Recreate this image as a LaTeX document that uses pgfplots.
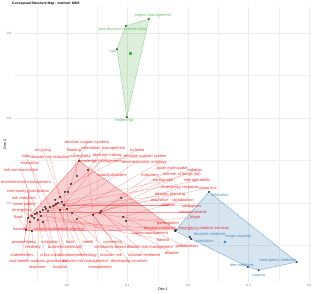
\documentclass[border=0pt]{standalone}
\usepackage{pgfplots}
\usepackage{pgfplotstable}
\pgfplotsset{compat=1.18}
\usepackage{fontspec}
\setmainfont{Liberation Sans}
\definecolor{cred}{HTML}{E41A1C}
\definecolor{cblue}{HTML}{377EB8}
\definecolor{cgreen}{HTML}{4DAF4A}

% red cluster: point (px,py) and its label (lx,ly)
\pgfplotstableread[col sep=comma]{
px,py,lx,ly,label
0.0198,0.0988,0.0331,0.1412,decision support systems
-0.0116,0.0141,-0.0397,0.1224,recycling
0.0165,0.0635,0.0116,0.1224,flooding
0.0347,0.0776,0.0595,0.1271,information management
0.0066,0.0447,0.1157,0.1247,sri lanka
-0.0281,-0.0094,-0.0678,0.1106,india
-0.0083,0.0024,-0.0281,0.1082,disaster risk reduction
0.0017,0.0259,0.0215,0.1082,vulnerability
-0.0033,0.0259,0.0661,0.1106,decision making
0.0198,0.0988,0.1289,0.1082,decision support system
-0.0397,-0.0165,-0.0612,0.0941,evaluation
-0.0116,-0.0165,0.0545,0.0965,knowledge management
0.0,-0.0141,0.1140,0.0965,decentralization
0.0083,-0.0235,0.1520,0.0941,ontology
-0.0496,-0.0235,-0.0760,0.0776,risk communication
0.043,-0.0282,0.1736,0.08,japan earthquake
0.0545,-0.0235,0.2116,0.0776,radiation
-0.0198,0.0071,0.0744,0.0659,natural disasters
0.0562,-0.0188,0.1372,0.0659,indicators
0.0893,0.0118,0.1901,0.0659,internet of things (iot)
-0.0579,-0.0306,-0.0680,0.0471,environmental management
-0.0149,0.0,0.1587,0.0518,earthquake
-0.0231,-0.0071,0.2149,0.0518,interoperability
-0.0645,-0.0353,-0.0645,0.0259,community participation
0.0165,-0.0376,0.1868,0.0353,emergency response
0.0562,-0.0188,0.2331,0.0353,costa rica
-0.0347,-0.0141,0.1702,0.0188,disaster planning
-0.0678,-0.0635,-0.0711,0.0118,risk reduction
-0.0314,-0.0188,0.1537,0.0071,insurance
0.0926,-0.0329,0.1917,0.0071,coordination
-0.0612,-0.0447,-0.0711,-0.0024,social capital
-0.005,-0.0047,0.1669,-0.0047,children
-0.0182,-0.0024,0.2066,-0.0071,philippines
-0.0545,-0.0353,-0.0744,-0.0188,emergency
-0.0446,-0.0212,0.2083,-0.0212,natural hazards
-0.0678,-0.0635,-0.081,-0.0329,flood
0.0975,-0.0424,0.2116,-0.0353,triage
-0.0364,-0.0094,0.1669,-0.0471,participation
-0.0579,-0.0659,-0.0777,-0.0612,hazards
-0.0397,-0.0447,-0.0331,-0.0612,communication
0.0165,-0.0376,0.0083,-0.0635,early warning
-0.048,-0.04,0.1537,-0.0612,disaster response
0.1802,-0.0635,0.2264,-0.0612,emergency medical services
-0.0529,-0.0259,0.1372,-0.0729,supply management
-0.043,-0.0306,0.1587,-0.0871,hazard
0.0926,-0.0329,0.1980,-0.1035,globalization
0.0545,-0.0235,0.1736,-0.1176,disaster
-0.0678,-0.0635,-0.0711,-0.0918,preparedness
-0.0397,-0.0447,-0.0281,-0.0918,mitigation
-0.0116,-0.0165,0.005,-0.0918,food
0.0,-0.0141,0.0347,-0.0918,health
0.043,-0.0282,0.076,-0.0918,community
-0.0579,-0.0659,-0.0562,-0.1059,recovery
-0.0281,-0.0094,-0.0033,-0.1059,business continuity
0.0083,-0.0235,0.1100,-0.1059,community-based disaster risk management
-0.0645,-0.0353,-0.0744,-0.1224,stakeholders
-0.0496,-0.0235,-0.0364,-0.1224,crisis
-0.0231,-0.0071,-0.0083,-0.1224,collaboration
-0.0083,0.0024,0.0300,-0.1224,epidemiology
0.0165,-0.0376,0.0730,-0.1224,disaster risk
0.0562,-0.0188,0.1280,-0.1224,disaster resilience
-0.0612,-0.0447,-0.0661,-0.1365,cost-benefit analysis
-0.0364,-0.0094,-0.0170,-0.1388,governance
-0.0182,-0.0024,0.0300,-0.1388,disaster risk management
0.043,-0.0282,0.1030,-0.1388,developing countries
-0.0446,-0.0212,-0.0496,-0.1529,response
-0.0033,0.0259,-0.0116,-0.1529,hospital
0.0347,0.0776,0.0545,-0.1529,management
}\redtab

\pgfplotstableread{
x y
0.0198 0.0988
0.0347 0.0776
0.0165 0.0635
0.0066 0.0447
-0.0033 0.0259
0.0017 0.0259
-0.0116 0.0141
-0.0083 0.0024
-0.0281 -0.0094
-0.0397 -0.0165
-0.0496 -0.0235
-0.0579 -0.0306
-0.0645 -0.0353
-0.0678 -0.0635
-0.0579 -0.0659
-0.0397 -0.0447
-0.0116 -0.0165
0.0 -0.0141
0.0165 -0.0376
0.043 -0.0282
0.0545 -0.0235
0.0083 -0.0235
0.0893 0.0118
0.0562 -0.0188
0.0926 -0.0329
0.0975 -0.0424
-0.0529 -0.0259
-0.0446 -0.0212
-0.0347 -0.0141
-0.0231 -0.0071
-0.0182 -0.0024
-0.0149 0.0
-0.0314 -0.0188
-0.0364 -0.0094
-0.0612 -0.0447
-0.0545 -0.0353
-0.0198 0.0071
-0.005 -0.0047
-0.048 -0.04
-0.043 -0.0306
0.1802 -0.0635
}\redpts

\pgfplotstableread{
x y
0.0198 0.0988
0.1802 -0.0635
-0.0579 -0.0659
-0.0678 -0.0635
-0.0645 -0.0353
0.0198 0.0988
}\redhull

\pgfplotstableread[col sep=comma]{
px,py,lx,ly,label
0.1355,0.433,0.142,0.440,project management
0.0975,0.4165,0.0926,0.407,post disaster reconstruction
0.0826,0.362,0.076,0.355,ngo
0.099,0.202,0.094,0.193,leadership
}\greentab

\pgfplotstableread{
x y
0.1355 0.433
0.099 0.202
0.0826 0.362
0.0975 0.4165
0.1355 0.433
}\greenhull

\pgfplotstableread[col sep=comma]{
px,py,lx,ly,label
0.2347,0.026,0.253,0.019,education
0.2033,-0.080,0.236,-0.073,disaster medicine
0.1785,-0.066,0.283,-0.078,surge capacity
0.205,-0.0847,0.228,-0.089,simulation
0.299,-0.1506,0.289,-0.146,tele-medicine
0.380,-0.139,0.349,-0.136,emergency medicine
0.317,-0.158,0.317,-0.169,trauma
}\bluetab

\pgfplotstableread{
x y
0.2347 0.026
0.380 -0.139
0.317 -0.158
0.299 -0.1506
0.1785 -0.066
0.2347 0.026
}\bluehull

\begin{document}
\begin{tikzpicture}
\useasboundingbox (0,0) rectangle (312pt,293pt);
\begin{axis}[
  at={(14pt,11pt)}, anchor=south west,
  scale only axis, width=298pt, height=275pt,
  xmin=-0.0876, xmax=0.405, ymin=-0.186, ymax=0.461,
  clip=false,
  axis line style={draw=none},
  major tick length=0pt, minor tick length=0pt,
  xtick={0,0.1,0.2,0.3,0.4}, xticklabels={0.0,0.1,0.2,0.3,0.4},
  ytick={0,0.2,0.4}, yticklabels={0.0,0.2,0.4},
  minor xtick={-0.05,0.05,0.15,0.25,0.35},
  minor ytick={-0.1,0.1,0.3},
  grid=both,
  major grid style={black!8, line width=0.45pt},
  minor grid style={black!6, line width=0.25pt},
  tick label style={font=\fontsize{3.2}{3.2}\selectfont, text=black!55},
  xticklabel style={yshift=1.5pt},
  yticklabel style={xshift=1pt},
  xlabel={Dim 1}, ylabel={Dim 2},
  xlabel style={font=\fontsize{3.6}{3.6}\selectfont, yshift=5pt},
  ylabel style={font=\fontsize{3.6}{3.6}\selectfont, yshift=-6pt},
  every axis title shift=0pt,
  title={\textbf{Conceptual Structure Map - method: MDS}},
  title style={at={(0,1)}, anchor=base west, xshift=-2pt, yshift=2.2pt, inner sep=0pt, font=\fontsize{3.4}{3.4}\selectfont},
]
% hulls
\addplot[fill=cred, fill opacity=0.2, draw=cred, draw opacity=0.6, line width=0.35pt] table[x=x,y=y] {\redhull};
\addplot[fill=cgreen, fill opacity=0.2, draw=cgreen, draw opacity=0.6, line width=0.35pt] table[x=x,y=y] {\greenhull};
\addplot[fill=cblue, fill opacity=0.2, draw=cblue, draw opacity=0.7, line width=0.35pt] table[x=x,y=y] {\bluehull};
% repel segments
\addplot[cred, opacity=0.42, line width=0.28pt, quiver={u=\thisrow{lx}-\thisrow{px}, v=\thisrow{ly}-\thisrow{py}}] table[x=px,y=py] {\redtab};
% points
\addplot[only marks, mark=*, mark size=0.55pt, black] table[x=x,y=y] {\redpts};
\addplot[only marks, mark=*, mark size=0.55pt, black] table[x=px,y=py] {\greentab};
\addplot[only marks, mark=*, mark size=0.55pt, black] table[x=px,y=py] {\bluetab};
% centroids
\addplot[only marks, mark=square*, mark size=0.9pt, cgreen] coordinates {(0.104,0.353)};
\addplot[only marks, mark=triangle*, mark size=1.3pt, cblue] coordinates {(0.261,-0.092)};
\addplot[only marks, mark=*, mark size=0.9pt, cred] coordinates {(-0.020,-0.005)};
% labels
\addplot[draw=none, nodes near coords, point meta=explicit symbolic, nodes near coords align={center},
  every node near coord/.append style={font=\fontsize{4}{4}\selectfont, text=cred!90!white, inner sep=0pt}]
  table[x=lx,y=ly,meta=label] {\redtab};
\addplot[draw=none, nodes near coords, point meta=explicit symbolic, nodes near coords align={center},
  every node near coord/.append style={font=\fontsize{4}{4}\selectfont, text=cgreen!85!white, inner sep=0pt}]
  table[x=lx,y=ly,meta=label] {\greentab};
\addplot[draw=none, nodes near coords, point meta=explicit symbolic, nodes near coords align={center},
  every node near coord/.append style={font=\fontsize{4}{4}\selectfont, text=cblue!90!white, inner sep=0pt}]
  table[x=lx,y=ly,meta=label] {\bluetab};
\end{axis}
\end{tikzpicture}
\end{document}
